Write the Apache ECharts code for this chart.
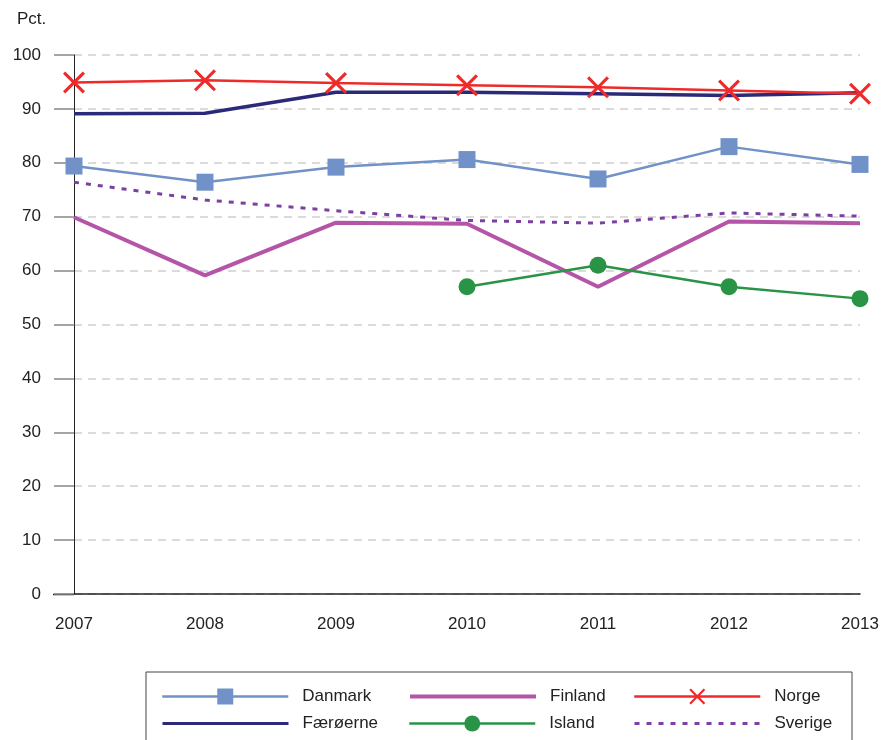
<html>
<head>
    <meta charset="utf-8">
    <title>Pct. 2007-2013</title>
    <script src="https://cdn.jsdelivr.net/npm/echarts@6/dist/echarts.min.js"></script>
</head>
<body style="margin:0">
    <div id="main" style="width:883px;height:740px"></div>
    <script type="text/javascript">
        var years = ['2007', '2008', '2009', '2010', '2011', '2012', '2013'];
        var danmark   = [79.4, 76.4, 79.2, 80.6, 77.0, 83.0, 79.7];
        var faeroerne = [89.1, 89.2, 93.1, 93.1, 92.8, 92.5, 93.0];
        var finland   = [69.9, 59.1, 68.9, 68.7, 57.0, 69.1, 68.8];
        var island    = [null, null, null, 57.0, 61.0, 57.0, 54.8];
        var norge     = [94.9, 95.3, 94.8, 94.4, 94.0, 93.4, 92.8];
        var sverige   = [76.4, 73.1, 71.1, 69.3, 68.8, 70.7, 70.1];

        var font = 'Liberation Sans, Arial, sans-serif';
        var crossIcon = 'path://M0,1L1,0L5,4L9,0L10,1L6,5L10,9L9,10L5,6L1,10L0,9L4,5Z';

        var myChart = echarts.init(document.getElementById('main'));

        // one legend per entry so the columns line up like the original
        function leg(name, left, top, lw, noSymbol) {
            var l = {
                data: [name], left: left, top: top,
                itemWidth: 126, itemHeight: 20, itemGap: 0,
                padding: 0, selectedMode: false,
                lineStyle: { width: lw },
                textStyle: { fontFamily: font, fontSize: 17, color: '#222', padding: [0, 0, 0, 9] }
            };
            if (noSymbol) l.itemStyle = { opacity: 0 };
            return l;
        }

        var option = {
            animation: false,
            backgroundColor: '#fff',
            grid: { left: 74, right: 23, top: 55, bottom: 146 },
            legend: [
                leg('Danmark', 161, 688, 2.5, false),
                leg('Finland', 408, 688, 4, true),
                leg('Norge', 633, 688, 2.5, false),
                leg('Færøerne', 161, 715, 3, true),
                leg('Island', 408, 715, 2.5, false),
                leg('Sverige', 633, 715, 3, true)
            ],
            graphic: [
                { type: 'rect', shape: { x: 146, y: 672, width: 706, height: 80 },
                  style: { fill: 'none', stroke: '#444', lineWidth: 1 } },
                { type: 'text', left: 17, top: 11,
                  style: { text: 'Pct.', font: '17px ' + font, fill: '#222' } },
                { type: 'line', shape: { x1: 53, y1: 594.5, x2: 74, y2: 594.5 },
                  style: { stroke: '#222', lineWidth: 1.5 } }
            ],
            xAxis: {
                type: 'category',
                data: years,
                boundaryGap: false,
                axisLine: { lineStyle: { color: '#222', width: 1.5 } },
                axisTick: { show: false },
                axisLabel: { margin: 22, fontFamily: font, fontSize: 17, color: '#222' }
            },
            yAxis: {
                type: 'value',
                min: 0, max: 100, interval: 10,
                axisLine: { show: true, lineStyle: { color: '#222', width: 1 } },
                axisTick: { show: true, length: 20, lineStyle: { color: '#888', width: 1.5 } },
                axisLabel: { margin: 33, fontFamily: font, fontSize: 17, color: '#222' },
                splitLine: { lineStyle: { color: '#cfcfcf', width: 1.5, type: [8, 6] } }
            },
            series: [
                { name: 'Danmark', type: 'line', data: danmark,
                  symbol: 'rect', symbolSize: 17,
                  lineStyle: { color: '#7092c8', width: 2.5 },
                  itemStyle: { color: '#7092c8' } },
                { name: 'Færøerne', type: 'line', data: faeroerne,
                  showSymbol: false, symbol: 'none',
                  lineStyle: { color: '#2b2a78', width: 3.5 },
                  itemStyle: { color: '#2b2a78' } },
                { name: 'Finland', type: 'line', data: finland,
                  showSymbol: false, symbol: 'none',
                  lineStyle: { color: '#b455a8', width: 4 },
                  itemStyle: { color: '#b455a8' } },
                { name: 'Island', type: 'line', data: island,
                  symbol: 'circle', symbolSize: 17,
                  lineStyle: { color: '#2a9446', width: 2.5 },
                  itemStyle: { color: '#2a9446' } },
                { name: 'Norge', type: 'line', data: norge,
                  symbol: crossIcon, symbolSize: 22,
                  lineStyle: { color: '#ee2a2a', width: 2.5 },
                  itemStyle: { color: '#ee2a2a' } },
                { name: 'Sverige', type: 'line', data: sverige,
                  showSymbol: false, symbol: 'none',
                  lineStyle: { color: '#7b40a0', width: 3, type: [5, 7] },
                  itemStyle: { color: '#7b40a0' } }
            ]
        };
        myChart.setOption(option);
    </script>
</body>
</html>
